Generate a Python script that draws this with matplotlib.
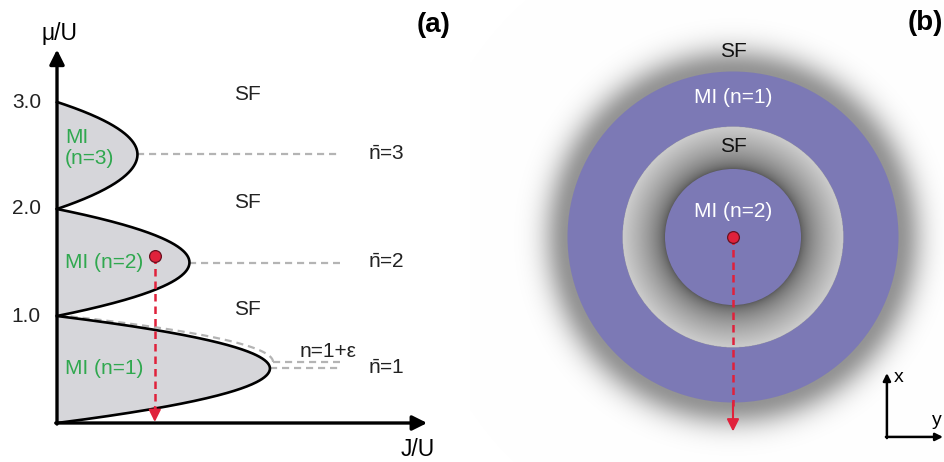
import numpy as np
import matplotlib
matplotlib.use("Agg")
import matplotlib.pyplot as plt
from matplotlib.patches import Circle, Annulus

plt.rcParams['font.family'] = ['Liberation Sans', 'DejaVu Sans']
plt.rcParams['mathtext.fontset'] = 'custom'
plt.rcParams['mathtext.rm'] = 'Liberation Sans'

# phase diagram (a): Mott lobes
lobe_mu_lo = [0.0, 1.0, 2.0]
lobe_mu_hi = [1.0, 2.0, 3.0]
lobe_mu_tip = [0.51, 1.50, 2.51]
lobe_j_tip = [0.172, 0.107, 0.065]
lobe_labels = ["MI (n=1)", "MI (n=2)", "MI\n(n=3)"]
nbar_labels = [r"$\bar{\mathrm{n}}$=1", r"$\bar{\mathrm{n}}$=2", r"$\bar{\mathrm{n}}$=3"]
yticks = [1.0, 2.0, 3.0]
eps_mu_tip, eps_mu_hi, eps_j_tip = 0.57, 1.01, 0.1745
point_j, point_mu = 0.079, 1.56

# trap picture (b): shell radii (outer MI radius = 1)
r_mi1 = 1.0
r_sf = 0.668
r_mi2 = 0.411

GREEN = "#30a84f"
RED = "#e0213b"
PURPLE = "#7c79b5"
GRAY_DASH = "#b4b4b4"
FS = 15


def lobe(mu_lo, mu_hi, mu_tip, j_tip, n=200):
    mu = np.linspace(mu_lo, mu_hi, n)
    half = np.where(mu < mu_tip, mu_tip - mu_lo, mu_hi - mu_tip)
    j = j_tip * (1 - ((mu - mu_tip) / half) ** 2)
    return j, mu


fig = plt.figure(figsize=(9.45, 4.62), dpi=100)

# ---------- (a)
ax = fig.add_axes([0, 0, 470 / 945, 1])
ax.set_xlim(-57 / 1238, 413 / 1238)
ax.set_ylim(-39 / 107, 423 / 107)
ax.axis("off")

for lo, hi, tip, jt in zip(lobe_mu_lo, lobe_mu_hi, lobe_mu_tip, lobe_j_tip):
    j, mu = lobe(lo, hi, tip, jt)
    ax.fill_betweenx(mu, 0, j, color="#d6d6da", lw=0, zorder=1)
    ax.plot(j, mu, color="black", lw=1.9, zorder=3)

# n = 1 + eps boundary
mu_e = np.linspace(eps_mu_tip, eps_mu_hi - 0.005, 100)
j_e = eps_j_tip * (1 - ((mu_e - eps_mu_tip) / (eps_mu_hi - eps_mu_tip)) ** 2)
ax.plot(j_e, mu_e, color=GRAY_DASH, lw=1.6, dashes=(3.2, 2.2), zorder=2)
ax.plot([eps_j_tip, 0.2286], [eps_mu_tip, eps_mu_tip], color=GRAY_DASH, lw=1.6,
        dashes=(3.2, 2.2), zorder=2)

for tip, jt, lab in zip(lobe_mu_tip, lobe_j_tip, nbar_labels):
    ax.plot([jt, 0.2286], [tip, tip], color=GRAY_DASH, lw=1.6, dashes=(3.2, 2.2), zorder=2)
    ax.text(0.251, tip, lab, fontsize=FS, va="center", ha="left", color="#222222")
ax.text(0.196, 0.665, "n=1+\u03b5", fontsize=FS, va="center", ha="left", color="#222222")

for tip, lab in zip(lobe_mu_tip, lobe_labels):
    ax.text(0.0065, tip + (0.06 if "\n" in lab else 0), lab, fontsize=FS, color=GREEN,
            va="center", ha="left", linespacing=1.15, zorder=4)

for mu_sf in [1.06, 2.06, 3.07]:
    ax.text(0.1535, mu_sf, "SF", fontsize=FS, ha="center", va="center", color="#222222")

for t in yticks:
    ax.text(-0.0130, t, f"{t:.1f}", fontsize=FS, ha="right", va="center", color="#222222")

# axes arrows
ax.annotate("", xy=(0, 3.49), xytext=(0, -0.01),
            arrowprops=dict(arrowstyle="-|>", lw=2.4, color="black", mutation_scale=22,
                            shrinkA=0, shrinkB=0), zorder=5)
ax.annotate("", xy=(0.299, 0), xytext=(-0.001, 0),
            arrowprops=dict(arrowstyle="-|>", lw=2.4, color="black", mutation_scale=22,
                            shrinkA=0, shrinkB=0), zorder=5)
ax.text(0.0024, 3.64, "\u03bc/U", fontsize=16.5, ha="center", va="center")
ax.text(0.291, -0.25, "J/U", fontsize=16.5, ha="center", va="center")
ax.text(0.3045, 3.72, "(a)", fontsize=20, fontweight="bold", ha="center", va="center")

# red point and arrow
ax.plot([point_j, point_j], [point_mu, 0.12], color=RED, lw=1.8, dashes=(3, 2), zorder=6)
ax.annotate("", xy=(point_j, 0.01), xytext=(point_j, 0.15),
            arrowprops=dict(arrowstyle="-|>", lw=1.5, color=RED, mutation_scale=18,
                            shrinkA=0, shrinkB=0), zorder=6)
ax.plot(point_j, point_mu, "o", ms=8.5, color=RED, mec="#6a1020", mew=0.9, zorder=7)

# ---------- (b)
bx = fig.add_axes([470 / 945, 0, 475 / 945, 1])
x0, x1, y0, y1 = -263 / 165.5, 212 / 165.5, -225 / 165.5, 237 / 165.5
bx.set_xlim(x0, x1)
bx.set_ylim(y0, y1)
bx.axis("off")

xx, yy = np.meshgrid(np.linspace(x0, x1, 950), np.linspace(y0, y1, 924))
rr = np.hypot(xx, yy)
g = 1 - 0.42 * np.exp(-(np.clip(rr - r_mi1, 0, None) / 0.15) ** 2)
s = np.clip((rr - r_mi2) / (r_sf - r_mi2), 0, 1)
g = np.where(rr < r_sf, 0.34 + 0.46 * s ** 0.6, g)
img = np.dstack([g, g, g])
bx.imshow(img, extent=(x0, x1, y0, y1), origin="lower", aspect="auto",
          interpolation="bilinear", zorder=0)
bx.add_patch(Annulus((0, 0), r_mi1, r_mi1 - r_sf, color=PURPLE, lw=0, zorder=1))
bx.add_patch(Circle((0, 0), r_mi2, color=PURPLE, lw=0, zorder=1))

bx.text(0, 1.118, "SF", fontsize=FS, ha="center", va="center", color="#111111")
bx.text(0, 0.84, "MI (n=1)", fontsize=FS, ha="center", va="center", color="white")
bx.text(0, 0.544, "SF", fontsize=FS, ha="center", va="center", color="#111111")
bx.text(0, 0.157, "MI (n=2)", fontsize=FS, ha="center", va="center", color="white")
bx.text(1.16, 1.293, "(b)", fontsize=20, fontweight="bold", ha="center", va="center")

bx.plot([0, 0], [0, -1.02], color=RED, lw=1.8, dashes=(3, 2), zorder=3)
bx.annotate("", xy=(0, -1.175), xytext=(0, -1.0),
            arrowprops=dict(arrowstyle="-|>", lw=1.5, color=RED, mutation_scale=18,
                            shrinkA=0, shrinkB=0), zorder=3)
bx.plot(0, 0, "o", ms=8.5, color=RED, mec="#6a1020", mew=0.9, zorder=4)

# small x/y coordinate arrows
bx.annotate("", xy=(0.930, -0.822), xytext=(0.930, -1.215),
            arrowprops=dict(arrowstyle="-|>", lw=1.8, color="black", mutation_scale=11,
                            shrinkA=0, shrinkB=0))
bx.annotate("", xy=(1.269, -1.208), xytext=(0.924, -1.208),
            arrowprops=dict(arrowstyle="-|>", lw=1.8, color="black", mutation_scale=11,
                            shrinkA=0, shrinkB=0))
bx.text(1.003, -0.846, "x", fontsize=14, ha="center", va="center")
bx.text(1.233, -1.106, "y", fontsize=14, ha="center", va="center")

fig.savefig("out.png", dpi=100)
